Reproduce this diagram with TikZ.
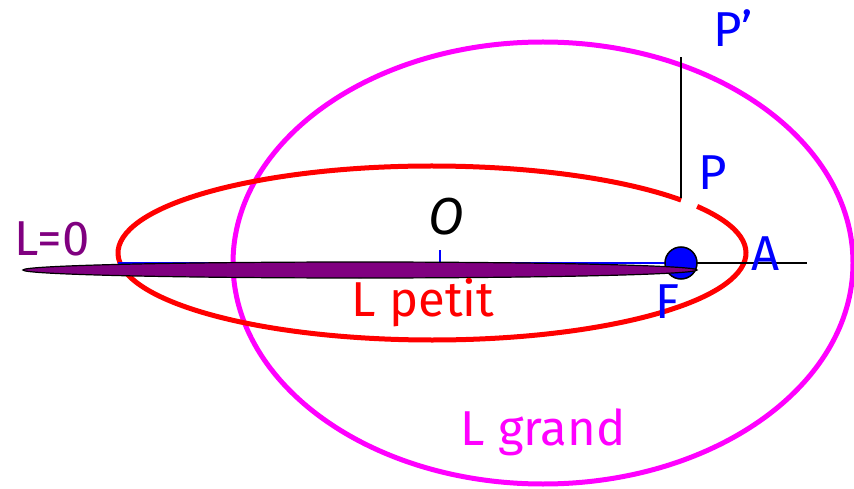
\documentclass[tikz,border=0pt]{standalone}
\usepackage{fontspec}
\setmainfont{Fira Sans}
\definecolor{purp}{RGB}{128,0,128}
\definecolor{mag}{RGB}{255,0,255}
\begin{document}
\begin{tikzpicture}[x=1pt,y=1pt,
  lbl/.style={anchor=base,inner sep=0pt,font=\fontsize{49}{52}\selectfont},
  orbit/.style={line width=5pt}]
\useasboundingbox (0,0) rectangle (854,488);
% magenta ellipse (L grand)
\draw[orbit,mag] (543,225) ellipse [x radius=310, y radius=221];
% red ellipse (L petit) with a gap at P
\draw[orbit,red] (432,235) ++(37.5:314 and 87) arc [start angle=37.5, end angle=392.4, x radius=314, y radius=87];
% coordinates
\coordinate (left) at (118,225);
\coordinate (Fc) at (681,225);
\coordinate (right) at (807,225);
\coordinate (Otick) at (440,238);
\coordinate (Obase) at (440,225);
\coordinate (Ptop) at (681,431);
\coordinate (Pbot) at (681,290);
% axis
\draw[blue,line width=1.5pt] (left) -- (Fc);
\draw[black,line width=1.5pt] (Fc) -- (right);
\draw[blue,line width=1.5pt] (Obase) -- (Otick);
% vertical line P-P'
\draw[black,line width=1.5pt] (Pbot) -- (Ptop);
% focus dot
\node[circle,fill=blue,draw=black,line width=1.5pt,minimum size=32pt,inner sep=0pt] (F) at (Fc) {};
% L=0 degenerate ellipse
\draw[fill=purp,draw=black,line width=1.2pt] (360,218) ellipse [x radius=337, y radius=8];
% labels
\node[lbl,text=purp] (l0) at (52,233) {L=0};
\node[lbl,text=black,font=\fontsize{52}{56}\selectfont\itshape] (O) at (446,253) {O};
\node[lbl,text=red] (lp) at (423,172) {L petit};
\node[lbl,text=blue] (Fl) at (668,170) {F};
\node[lbl,text=blue] (A) at (766,218) {A};
\node[lbl,text=blue] (P) at (713,298) {P};
\node[lbl,text=blue] (Pp) at (733,441) {P’};
\node[lbl,text=mag] (lg) at (543,43) {L grand};
\end{tikzpicture}
\end{document}
